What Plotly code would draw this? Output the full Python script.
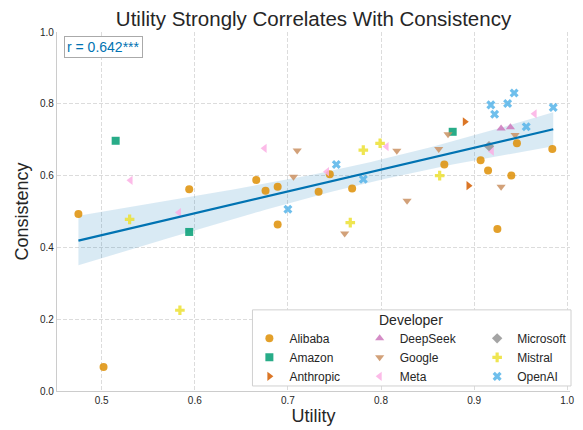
import numpy as np
import plotly.graph_objects as go

# ── Data ──────────────────────────────────────────────────────────────────────
alibaba_x = [0.475, 0.502, 0.594, 0.666, 0.676, 0.689, 0.689, 0.733, 0.745,
             0.769, 0.868, 0.907, 0.915, 0.925, 0.940, 0.946, 0.984]
alibaba_y = [0.493, 0.067, 0.562, 0.588, 0.558, 0.569, 0.464, 0.555, 0.604,
             0.564, 0.631, 0.643, 0.614, 0.451, 0.600, 0.690, 0.674]
amazon_x = [0.515, 0.594, 0.877]
amazon_y = [0.697, 0.443, 0.722]
anthropic_x = [0.890, 0.894]
anthropic_y = [0.750, 0.572]
deepseek_x = [0.929, 0.939]
deepseek_y = [0.731, 0.735]
google_x = [0.706, 0.710, 0.761, 0.817, 0.828, 0.862, 0.872, 0.929, 0.944]
google_y = [0.597, 0.670, 0.439, 0.669, 0.530, 0.674, 0.715, 0.569, 0.713]
meta_x = [0.531, 0.583, 0.675, 0.742, 0.806, 0.919, 0.965]
meta_y = [0.587, 0.497, 0.676, 0.611, 0.681, 0.668, 0.772]
microsoft_x = [0.916]
microsoft_y = [0.682]
mistral_x = [0.530, 0.584, 0.767, 0.781, 0.799, 0.863]
mistral_y = [0.478, 0.225, 0.469, 0.671, 0.690, 0.600]
openai_x = [0.700, 0.752, 0.781, 0.918, 0.922, 0.936, 0.943, 0.956, 0.985]
openai_y = [0.506, 0.631, 0.590, 0.797, 0.771, 0.801, 0.830, 0.736, 0.790]

x_ticks = [0.5, 0.6, 0.7, 0.8, 0.9, 1.0]
y_ticks = [0.0, 0.2, 0.4, 0.6, 0.8, 1.0]
r_label = "r = 0.642***"

series = {
    "Alibaba":   (alibaba_x, alibaba_y),
    "Amazon":    (amazon_x, amazon_y),
    "Anthropic": (anthropic_x, anthropic_y),
    "DeepSeek":  (deepseek_x, deepseek_y),
    "Google":    (google_x, google_y),
    "Meta":      (meta_x, meta_y),
    "Microsoft": (microsoft_x, microsoft_y),
    "Mistral":   (mistral_x, mistral_y),
    "OpenAI":    (openai_x, openai_y),
}

# ── Style ─────────────────────────────────────────────────────────────────────
_C = {
    "Alibaba":   "#de8f05",
    "Amazon":    "#029e73",
    "Anthropic": "#d55e00",
    "DeepSeek":  "#cc78bc",
    "Google":    "#ca9161",
    "Meta":      "#fbafe4",
    "Microsoft": "#949494",
    "Mistral":   "#ece133",
    "OpenAI":    "#56b4e9",
    "line":      "#0173b2",
    "band":      "rgba(1,115,178,0.15)",
    "grid":      "#dcdcdc",
    "spine":     "#cccccc",
    "text":      "#262626",
}
_SYM = {
    "Alibaba": "circle", "Amazon": "square", "Anthropic": "triangle-right",
    "DeepSeek": "triangle-up", "Google": "triangle-down", "Meta": "triangle-left",
    "Microsoft": "diamond", "Mistral": "cross", "OpenAI": "x",
}
_FONT = "Liberation Sans, Arial, sans-serif"

# three legend columns, like matplotlib's ncol=3
_LEG_COL = {
    "Alibaba": "legend", "Amazon": "legend", "Anthropic": "legend",
    "DeepSeek": "legend2", "Google": "legend2", "Meta": "legend2",
    "Microsoft": "legend3", "Mistral": "legend3", "OpenAI": "legend3",
}

# ── Regression + 95% CI ───────────────────────────────────────────────────────
all_x = np.concatenate([np.array(v[0]) for v in series.values()])
all_y = np.concatenate([np.array(v[1]) for v in series.values()])
n = len(all_x)
slope, intercept = np.polyfit(all_x, all_y, 1)
resid = all_y - (slope * all_x + intercept)
s = np.sqrt(np.sum(resid ** 2) / (n - 2))
xbar = all_x.mean()
sxx = np.sum((all_x - xbar) ** 2)
xs = np.linspace(all_x.min(), all_x.max(), 100)
ys = slope * xs + intercept
half = 2.005 * s * np.sqrt(1 / n + (xs - xbar) ** 2 / sxx)

fig = go.Figure()
fig.add_trace(go.Scatter(
    x=np.concatenate([xs, xs[::-1]]),
    y=np.concatenate([ys + half, (ys - half)[::-1]]),
    fill="toself", fillcolor=_C["band"], line=dict(width=0),
    mode="lines", showlegend=False, hoverinfo="skip",
))

for dev, (xv, yv) in series.items():
    fig.add_trace(go.Scatter(
        x=xv, y=yv, mode="markers", name=dev, legend=_LEG_COL[dev],
        marker=dict(symbol=_SYM[dev], color=_C[dev], size=8,
                    opacity=0.85, line=dict(width=0)),
    ))

fig.add_trace(go.Scatter(
    x=xs, y=ys, mode="lines", line=dict(color=_C["line"], width=2.2),
    showlegend=False, hoverinfo="skip",
))

fig.add_annotation(
    text=r_label, xref="paper", yref="paper", x=0.013, y=0.99,
    xanchor="left", yanchor="top", showarrow=False,
    font=dict(size=14, color=_C["line"], family=_FONT),
    bgcolor="white", bordercolor="#aaaaaa", borderwidth=1, borderpad=2,
)

# legend frame + title
fig.add_shape(type="rect", xref="paper", yref="paper",
              x0=0.381, x1=1.002, y0=0.014, y1=0.226, layer="above",
              line=dict(color="#d0d0d0", width=1), fillcolor="white")
fig.add_annotation(text="Developer", xref="paper", yref="paper",
                   x=0.691, y=0.197, xanchor="center", yanchor="middle",
                   showarrow=False,
                   font=dict(size=14, color=_C["text"], family=_FONT))

axis_common = dict(
    showgrid=True, gridcolor=_C["grid"], griddash="4px,2px", gridwidth=1,
    showline=True, linecolor=_C["spine"], linewidth=1.2,
    zeroline=False, ticks="", mirror=False, automargin=False,
    tickfont=dict(size=10, color=_C["text"], family=_FONT),
    title_font=dict(size=18, color=_C["text"], family=_FONT),
)

leg_common = dict(
    orientation="v", yanchor="top", y=0.187, xanchor="left",
    bgcolor="rgba(0,0,0,0)", borderwidth=0, tracegroupgap=0,
    font=dict(size=12, color=_C["text"], family=_FONT),
)

fig.update_layout(
    width=583, height=430,
    paper_bgcolor="white", plot_bgcolor="white",
    font=dict(family=_FONT, color=_C["text"]),
    margin=dict(l=57, r=11, t=32, b=39),
    title=dict(text="Utility Strongly Correlates With Consistency",
               x=0.5, xref="paper", xanchor="center", y=0.956, yanchor="middle",
               font=dict(size=20.5, color=_C["text"], family=_FONT)),
    xaxis=dict(range=[0.452, 1.003], tickvals=x_ticks,
               ticktext=[f"{v:.1f}" for v in x_ticks],
               title=dict(text="Utility", standoff=4), **axis_common),
    yaxis=dict(range=[0, 1], tickvals=y_ticks,
               ticktext=[f"{v:.1f}" for v in y_ticks],
               title=dict(text="Consistency", standoff=6), **axis_common),
    legend=dict(x=0.375, **leg_common),
    legend2=dict(x=0.590, **leg_common),
    legend3=dict(x=0.819, **leg_common),
)

fig.write_html("out.html", config={"displayModeBar": False},
               post_script="document.body.style.margin='0';")
